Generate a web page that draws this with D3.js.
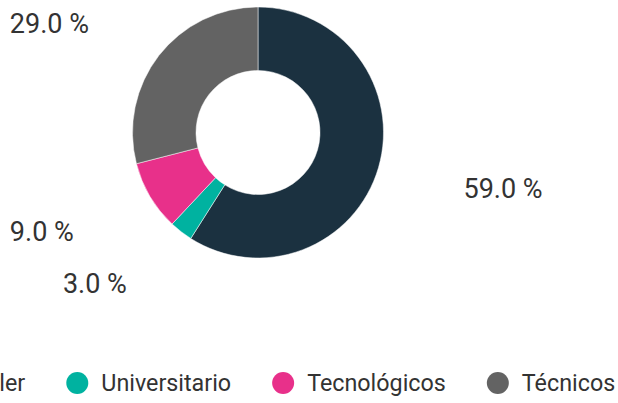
<!DOCTYPE html>
<html>
<head>
<meta charset="utf-8">
<script src="https://cdn.jsdelivr.net/npm/d3@7"></script>
<style>
  html, body { margin: 0; padding: 0; background: #fff; overflow: hidden; }
  svg { display: block; font-family: Roboto, "Noto Sans", sans-serif; }
</style>
</head>
<body>
<div id="chart"></div>
<script>
// data
const categories = ["Bachiller", "Universitario", "Tecnológicos", "Técnicos"];
const shares = [59, 3, 9, 29];
const colors = ["#1b3140", "#00b2a0", "#e8308a", "#636363"];

const width = 618, height = 403;
const cx = 258, cy = 132.5;
const outerR = 125.5, innerR = 62;
// labels: anchored away from the donut, horizontal reach labelRx, vertical reach labelRy
const labelRx = 214, labelRy = 186, labelDy = 5;

const svg = d3.select("#chart").append("svg")
  .attr("width", width)
  .attr("height", height);

const data = categories.map((c, i) => ({ name: c, value: shares[i], color: colors[i] }));

const pie = d3.pie().sort(null).value(d => d.value);
const arc = d3.arc().innerRadius(innerR).outerRadius(outerR);
const arcs = pie(data);
const mid = d => (d.startAngle + d.endAngle) / 2;

const g = svg.append("g").attr("transform", `translate(${cx},${cy})`);

g.selectAll("path")
  .data(arcs)
  .enter()
  .append("path")
  .attr("d", arc)
  .attr("fill", d => d.data.color)
  .attr("stroke", "#fff")
  .attr("stroke-width", 0.5);

g.selectAll("text.lbl")
  .data(arcs)
  .enter()
  .append("text")
  .attr("class", "lbl")
  .attr("x", d => Math.sin(mid(d)) * labelRx)
  .attr("y", d => -Math.cos(mid(d)) * labelRy + labelDy)
  .attr("text-anchor", d => Math.sin(mid(d)) < 0 ? "end" : "start")
  .attr("dominant-baseline", "central")
  .style("font-size", "27px")
  .style("fill", "#333")
  .text(d => d3.format(".1f")(d.data.value) + " %");

// legend, centred under the donut (first item runs off the left edge, as in the reference)
const legend = svg.append("g").attr("transform", `translate(0,383)`);
const markR = 11, markGap = 13, itemGap = 41;

const items = legend.selectAll("g")
  .data(data)
  .enter()
  .append("g");

items.append("circle")
  .attr("r", markR)
  .attr("cx", markR)
  .attr("cy", 0)
  .attr("fill", d => d.color);

items.append("text")
  .attr("x", markR * 2 + markGap)
  .attr("y", 0)
  .attr("dominant-baseline", "central")
  .style("font-size", "23.3px")
  .style("fill", "#333")
  .text(d => d.name);

let widths = [];
items.each(function () {
  const t = d3.select(this).select("text").node().getComputedTextLength();
  widths.push(markR * 2 + markGap + t);
});
const total = d3.sum(widths) + itemGap * (widths.length - 1);
let xPos = cx - total / 2;
items.attr("transform", (d, i) => {
  const x = xPos;
  xPos += widths[i] + itemGap;
  return `translate(${x},0)`;
});
</script>
</body>
</html>
